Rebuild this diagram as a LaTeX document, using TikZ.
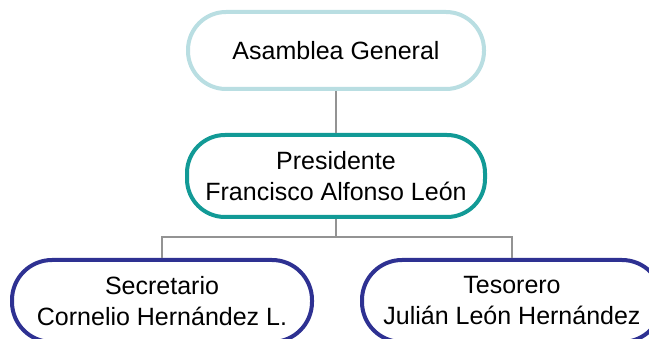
\documentclass[tikz,border=0pt]{standalone}
\usepackage{fontspec}
\setmainfont{Liberation Sans}
\definecolor{asambleacol}{RGB}{185,222,226}
\definecolor{presicol}{RGB}{18,154,150}
\definecolor{cargocol}{RGB}{46,49,146}
\begin{document}
\begin{tikzpicture}[x=1pt, y=-1pt,
    cargo/.style={draw, line width=4pt, fill=white, rounded corners=38pt,
      align=center, inner sep=0pt, font=\fontsize{25}{31}\selectfont},
    enlace/.style={draw=gray!85, line width=1.3pt}]
      \useasboundingbox (0, 0) rectangle (649, 339);
      \node (asamblea) [cargo, draw=asambleacol, minimum width=296pt, minimum height=77pt]
            at (336, 50.5) {Asamblea General};
      \node (presidente) [cargo, draw=presicol, minimum width=298pt, minimum height=82pt]
            at (336, 176) {Presidente\\Francisco Alfonso León};
      \node (secretario) [cargo, draw=cargocol, minimum width=300pt, minimum height=82pt,
            rounded corners=40pt] at (162, 301) {Secretario\\Cornelio Hernández L.};
      \node (tesorero) [cargo, draw=cargocol, minimum width=300pt, minimum height=82pt,
            rounded corners=40pt] at (512, 301) {Tesorero\\Julián León Hernández};
      \coordinate (bus) at (336, 237);
      \draw [enlace] (asamblea) -- (presidente)
                     (presidente) -- (bus)
                     (secretario.north) |- (bus) -| (tesorero.north);
      \end{tikzpicture}
\end{document}
